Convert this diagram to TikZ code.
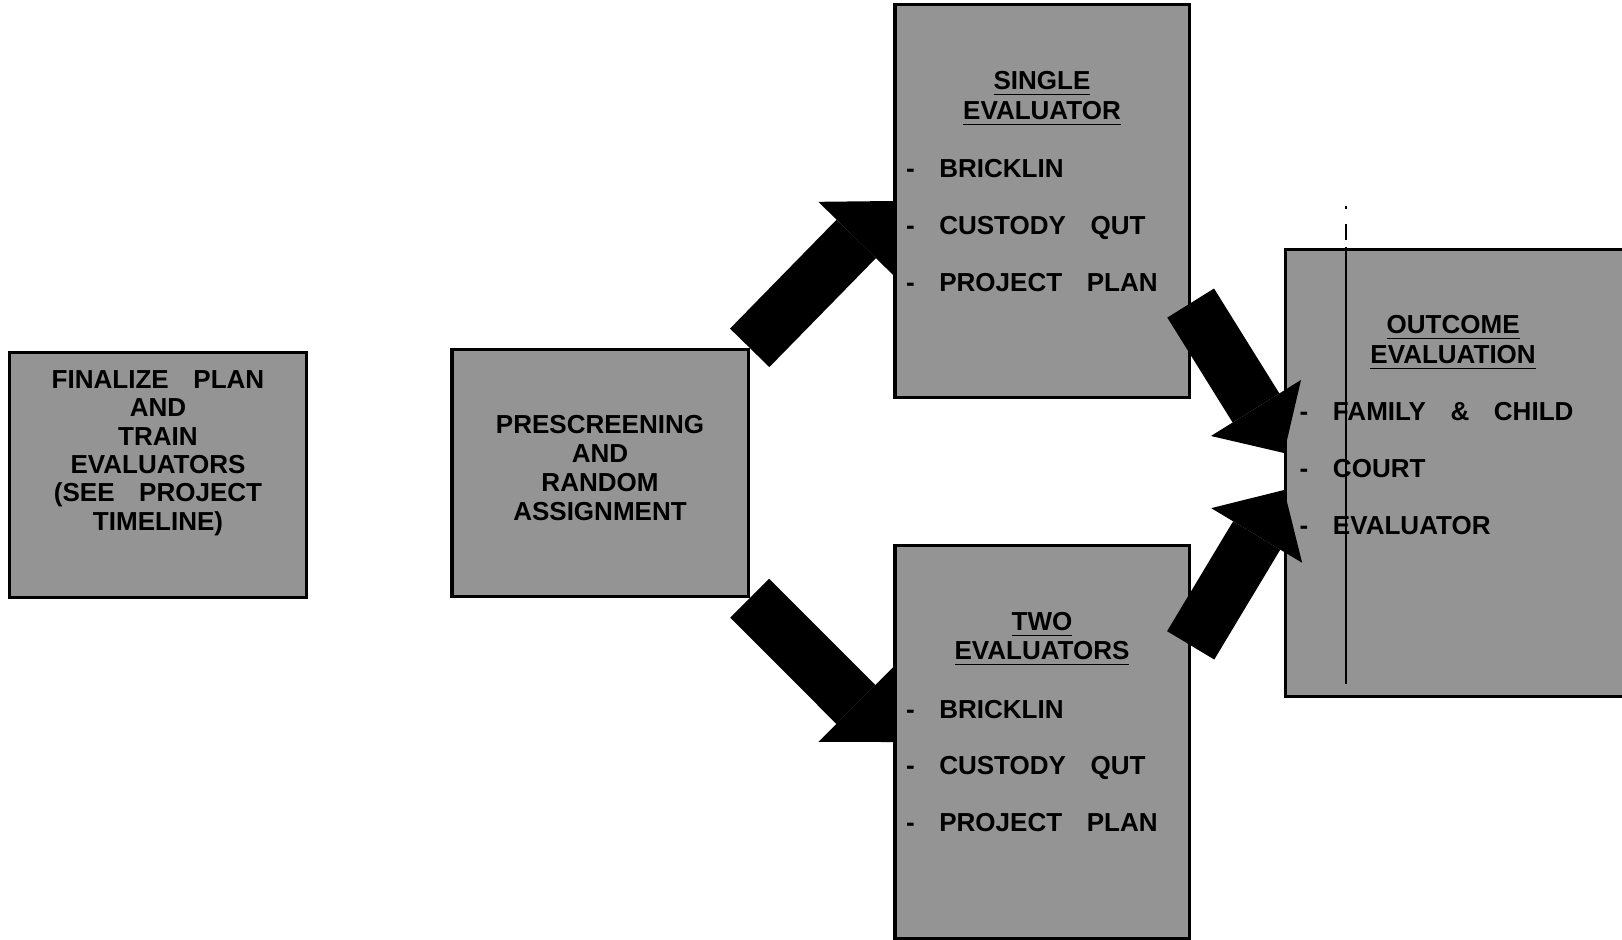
\documentclass[tikz,border=0pt]{standalone}
\usepackage{fontspec}
\setmainfont{Liberation Sans}[WordSpace=3.4]
\usetikzlibrary{arrows.meta}
\definecolor{dithergray}{gray}{0.58}
\tikzset{
    panel/.style={draw, line width=0.9pt, fill=dithergray, inner sep=0pt, minimum width=2.94cm},
    blocktext/.style={align=center, inner sep=0pt, font=\fontsize{7.4}{8.1}\selectfont\bfseries},
    headtext/.style={align=center, inner sep=0pt, font=\fontsize{7.4}{8.4}\selectfont\bfseries},
    itemtext/.style={align=left, anchor=west, inner sep=0pt, font=\fontsize{7.4}{16.2}\selectfont\bfseries},
    fatarrow/.style={line width=0.55cm, -{Triangle[length=5.3mm 0 1, width=10.6mm 0 1, line width=0pt]}},
}

\begin{document}
\begin{tikzpicture}[x=0.01cm, y=-0.01cm]
        \useasboundingbox (0,0) rectangle (1622,940);
        \node[panel, minimum width=2.97cm, minimum height=2.45cm] (finalize) at (158,475) {};
        \node[panel, minimum width=2.96cm, minimum height=2.47cm] (prescreen) at (600,473) {};
        \node[panel, minimum height=3.93cm] (single) at (1042,201) {};
        \node[panel, minimum height=3.92cm] (twoeval) at (1042,742) {};
        \node[panel, minimum width=3.6cm, minimum height=4.47cm, anchor=west] (outcome) at (1284,473) {};

        \node[blocktext] (finalizetxt) at ([yshift=0.22cm]finalize.center)
            {FINALIZE PLAN\\AND\\TRAIN\\EVALUATORS\\(SEE PROJECT\\TIMELINE)};
        \node[blocktext, font=\fontsize{7.4}{8.3}\selectfont\bfseries] (prescreentxt) at ([yshift=0.05cm]prescreen.center)
            {PRESCREENING\\AND\\RANDOM\\ASSIGNMENT};
        \node[headtext] (singlehead) at ([yshift=-0.96cm]single.north)
            {\underline{SINGLE}\\\underline{EVALUATOR}};
        \node[itemtext] (singleitems) at ([xshift=0.12cm, yshift=-0.245cm]single.west)
            {- BRICKLIN\\- CUSTODY QUT\\- PROJECT PLAN};
        \node[headtext] (twohead) at ([yshift=-0.95cm]twoeval.north)
            {\underline{TWO}\\\underline{EVALUATORS}};
        \node[itemtext] (twoitems) at ([xshift=0.12cm, yshift=-0.24cm]twoeval.west)
            {- BRICKLIN\\- CUSTODY QUT\\- PROJECT PLAN};
        \node[headtext] (outcomehead) at ([xshift=1.69cm, yshift=-0.95cm]outcome.north west)
            {\underline{OUTCOME}\\\underline{EVALUATION}};
        \node[itemtext] (outcomeitems) at ([xshift=0.15cm, yshift=0.045cm]outcome.west)
            {- FAMILY \& CHILD\\- COURT\\- EVALUATOR};

        \draw[fatarrow] (prescreen.north east) -- (single.west);
        \draw[fatarrow] (prescreen.south east) -- (twoeval.west);
        \draw[fatarrow] ([yshift=-1.02cm]single.east) -- ([yshift=0.2cm]outcome.west);
        \draw[fatarrow] ([yshift=-1.01cm]twoeval.north east) -- ([yshift=-0.17cm]outcome.west);

        \draw[line width=0.5pt] ([xshift=0.62cm]outcome.north west) -- ([xshift=0.62cm, yshift=0.14cm]outcome.south west);
        \draw[line width=0.5pt, dash pattern=on 0.8pt off 4.5pt on 4.5pt off 2pt]
            ([xshift=0.62cm, yshift=0.42cm]outcome.north west) -- ([xshift=0.62cm]outcome.north west);
    \end{tikzpicture}
\end{document}
